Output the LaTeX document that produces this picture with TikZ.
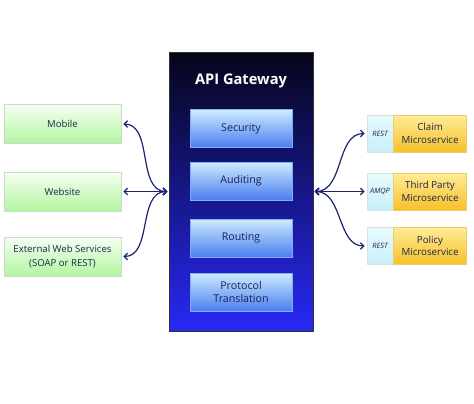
\documentclass[tikz,border=0pt]{standalone}
\usepackage{fontspec}
\setmainfont{Open Sans}
\usetikzlibrary{arrows.meta}
\definecolor{txt}{HTML}{1A2450}
\definecolor{arr}{HTML}{1C2470}
\tikzset{
  gwbox/.style={draw=black!80, top color={rgb,255:red,5;green,5;blue,25}, bottom color={rgb,255:red,40;green,40;blue,245}, minimum width=108pt, minimum height=209pt, inner sep=0pt},
  func/.style={draw={rgb,255:red,130;green,170;blue,255}, top color={rgb,255:red,205;green,236;blue,255}, bottom color={rgb,255:red,75;green,125;blue,240}, minimum width=76.5pt, minimum height=28.5pt, inner sep=1pt, align=center, text=txt, font=\fontsize{8}{10}\selectfont},
  client/.style={draw={rgb,255:red,200;green,218;blue,200}, top color={rgb,255:red,246;green,255;blue,242}, bottom color={rgb,255:red,178;green,245;blue,160}, minimum width=87.75pt, minimum height=29pt, inner sep=1pt, align=center, text=txt, font=\fontsize{7.2}{10}\selectfont},
  proto/.style={draw={rgb,255:red,215;green,225;blue,225}, top color={rgb,255:red,232;green,250;blue,255}, bottom color={rgb,255:red,200;green,240;blue,248}, minimum width=19.5pt, minimum height=27.75pt, inner sep=0pt, text=txt, font=\fontsize{5.5}{6}\selectfont\itshape},
  svc/.style={draw={rgb,255:red,235;green,205;blue,110}, top color={rgb,255:red,255;green,236;blue,150}, bottom color={rgb,255:red,247;green,192;blue,40}, minimum width=54.75pt, minimum height=27.75pt, inner sep=1pt, align=center, text=txt, font=\fontsize{7.3}{9.5}\selectfont},
  link/.style={draw=arr, line width=0.9pt, {Straight Barb[length=2.6pt,width=5pt]}-{Straight Barb[length=2.6pt,width=5pt]}},
}
\begin{document}
\begin{tikzpicture}[x=0.75pt,y=-0.75pt]
\useasboundingbox[fill=white] (0,0) rectangle (474,403);
\node[gwbox] (gw) at (241,191.5) {};
\node[text=white, font=\fontsize{11}{13}\selectfont\bfseries] (title) at (241,81) {API Gateway};
\node[func] (sec) at (241,128.5) {Security};
\node[func] (aud) at (241,181) {Auditing};
\node[func] (rou) at (241,238) {Routing};
\node[func] (pro) at (241,292) {Protocol\\Translation};

\node[client] (mob) at (62.5,124) {Mobile};
\node[client] (web) at (62.5,191.5) {Website};
\node[client] (ext) at (62.5,256.5) {External Web Services\\(SOAP or REST)};

\node[proto] (p1) at (380,133.5) {REST};
\node[svc, anchor=west] (s1) at (p1.east) {Claim\\Microservice};
\node[proto] (p2) at (380,191.5) {AMQP};
\node[svc, anchor=west] (s2) at (p2.east) {Third Party\\Microservice};
\node[proto] (p3) at (380,246) {REST};
\node[svc, anchor=west] (s3) at (p3.east) {Policy\\Microservice};

\draw[link, shorten <=1pt, shorten >=1.5pt] (gw.west) to[out=180,in=0] (mob.east);
\draw[link, shorten <=1pt, shorten >=1.5pt] (gw.west) to[out=180,in=0] (web.east);
\draw[link, shorten <=1pt, shorten >=1.5pt] (gw.west) to[out=180,in=0] (ext.east);
\draw[link, shorten <=1pt, shorten >=1.5pt] (gw.east) to[out=0,in=180] (p1.west);
\draw[link, shorten <=1pt, shorten >=1.5pt] (gw.east) to[out=0,in=180] (p2.west);
\draw[link, shorten <=1pt, shorten >=1.5pt] (gw.east) to[out=0,in=180] (p3.west);
\end{tikzpicture}
\end{document}
